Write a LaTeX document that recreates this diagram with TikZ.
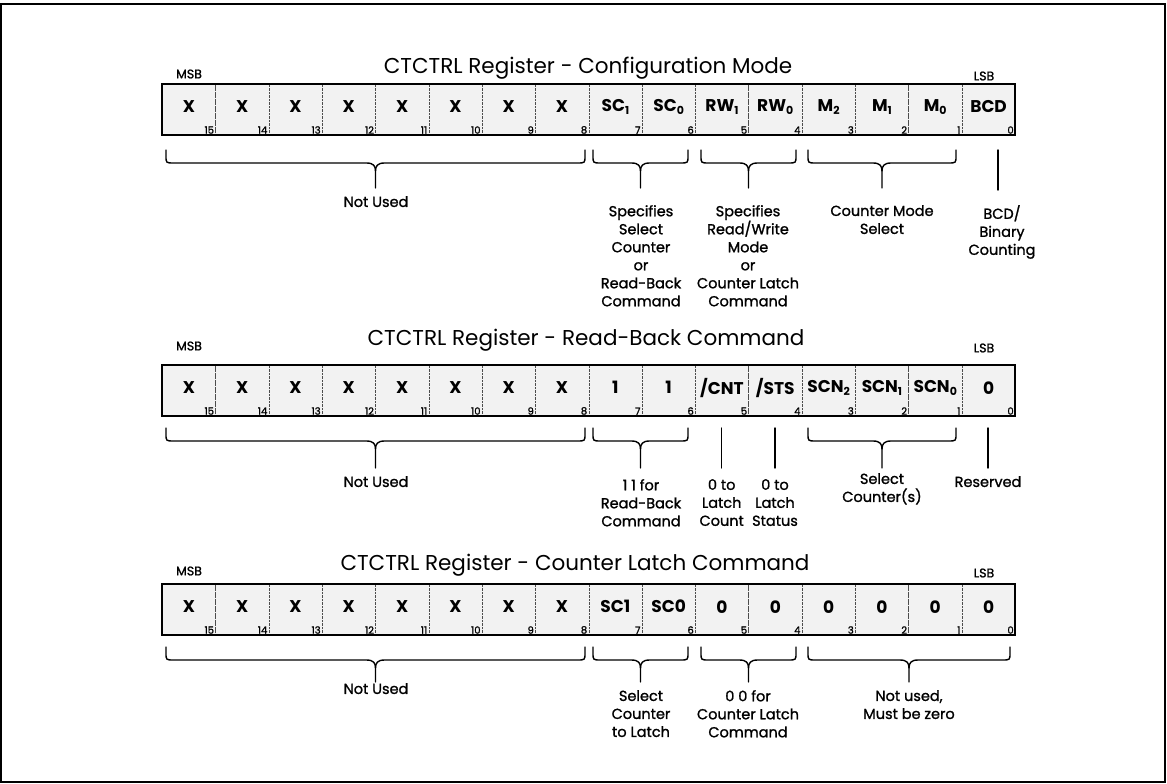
\documentclass[tikz,border=0pt]{standalone}
\usepackage{fontspec}
\setmainfont{Poppins}
\newfontfamily\medfont[FakeBold=1.2]{Poppins}
\newcommand\sbs[1]{\raisebox{-3pt}{\fontsize{11}{11}\selectfont #1}}
\tikzset{
  cellbox/.style={draw=black!70, densely dotted, fill=black!5, minimum width=53.3125pt, minimum height=51pt, inner sep=0pt, anchor=north west},
  celltxt/.style={font=\bfseries\fontsize{17}{17}\selectfont, inner sep=0pt},
  bitno/.style={font=\medfont\fontsize{10}{10}\selectfont, anchor=south east, inner sep=1.5pt},
  titletxt/.style={font=\fontsize{21.5}{22}\selectfont, inner sep=0pt},
  sidetxt/.style={font=\medfont\fontsize{12.5}{12}\selectfont, inner sep=0pt},
  labeltxt/.style={font=\medfont\fontsize{14.5}{18}\selectfont, align=center, anchor=north, inner sep=0pt},
  bracestyle/.style={line width=1.4pt, line cap=round, line join=round},
  outline/.style={line width=2pt},
}
% #1 row name, #2 top y, #3 list of cell texts
\newcommand\regrow[3]{%
  \foreach \t [count=\i from 0] in {#3} {
    \pgfmathsetmacro\xx{162+\i*53.3125}
    \pgfmathtruncatemacro\bb{15-\i}
    \node[cellbox] (#1c\i) at (\xx,#2) {};
    \node[celltxt] (#1t\i) at ([yshift=3pt]#1c\i.center) {\t};
    \node[bitno] (#1b\i) at (#1c\i.south east) {\bb};
  }
  \draw[outline] (#1c0.north west) rectangle (#1c15.south east);
}
% #1 xL, #2 xR, #3 top y, #4 depth, #5 name of tip coordinate
\newcommand\regbrace[5]{%
  \pgfmathsetmacro\xm{(#1+#2)/2}
  \pgfmathsetmacro\yh{#3+13}
  \pgfmathsetmacro\yc{#3+6}
  \pgfmathsetmacro\ys{#3+21}
  \pgfmathsetmacro\yt{#3+#4}
  \draw[bracestyle] (#1,#3) -- (#1,\yc) .. controls (#1,\yh) .. ({#1+8},\yh) -- ({\xm-9},\yh)
     .. controls ({\xm-2},\yh) and (\xm,{\yh+3}) .. (\xm,\ys) -- (\xm,\yt);
  \draw[bracestyle] (#2,#3) -- (#2,\yc) .. controls (#2,\yh) .. ({#2-8},\yh) -- ({\xm+9},\yh)
     .. controls ({\xm+2},\yh) and (\xm,{\yh+3}) .. (\xm,\ys);
  \coordinate (#5) at (\xm,\yt);
}
\begin{document}
\begin{tikzpicture}[x=1pt,y=-1pt]
\useasboundingbox (0,0) rectangle (1167,784);
\draw[line width=1.2pt] (1,4) rectangle (1165,782);

% ---------------- Row 1 ----------------
\node[titletxt] (t1) at (588,68) {CTCTRL Register - Configuration Mode};
\node[sidetxt] (msb1) at (189,74) {MSB};
\node[sidetxt] (lsb1) at (984,76) {LSB};
\regrow{a}{84}{X,X,X,X,X,X,X,X,SC\sbs{1},SC\sbs{0},RW\sbs{1},RW\sbs{0},M\sbs{2},M\sbs{1},M\sbs{0},BCD}
\regbrace{166}{585}{150}{38}{ab1}
\regbrace{593}{688}{150}{38}{ab2}
\regbrace{701}{796}{150}{38}{ab3}
\regbrace{808}{956}{150}{38}{ab4}
\coordinate (ab5top) at (998,150);
\coordinate (ab5) at (998,190);
\draw[bracestyle] (ab5top) -- (ab5);
\node[labeltxt] (al1) at (376,196) {Not Used};
\node[labeltxt] (al2) at (641,205) {Specifies\\Select\\Counter\\or\\Read-Back\\Command};
\node[labeltxt] (al3) at (748,205) {Specifies\\Read/Write\\Mode\\or\\Counter Latch\\Command};
\node[labeltxt] (al4) at (882,205) {Counter Mode\\Select};
\node[labeltxt] (al5) at (1002,205) {BCD/\\Binary\\Counting};

% ---------------- Row 2 ----------------
\node[titletxt] (t2) at (586,340) {CTCTRL Register - Read-Back Command};
\node[sidetxt] (msb2) at (189,346) {MSB};
\node[sidetxt] (lsb2) at (984,348) {LSB};
\regrow{b}{365}{X,X,X,X,X,X,X,X,1,1,/CNT,/STS,SCN\sbs{2},SCN\sbs{1},SCN\sbs{0},0}
\regbrace{166}{585}{428}{40}{bb1}
\regbrace{593}{688}{428}{40}{bb2}
\coordinate (bb3top) at (721.7,428);
\coordinate (bb3) at (721.7,468);
\draw[bracestyle] (bb3top) -- (bb3);
\coordinate (bb4top) at (775,428);
\coordinate (bb4) at (775,468);
\draw[bracestyle] (bb4top) -- (bb4);
\regbrace{808}{956}{428}{40}{bb5}
\coordinate (bb6top) at (988,428);
\coordinate (bb6) at (988,468);
\draw[bracestyle] (bb6top) -- (bb6);
\node[labeltxt] (bl1) at (376,476) {Not Used};
\node[labeltxt] (bl2) at (641,479) {1 1 for\\Read-Back\\Command};
\node[labeltxt] (bl3) at (721.7,479) {0 to\\Latch\\Count};
\node[labeltxt] (bl4) at (775,479) {0 to\\Latch\\Status};
\node[labeltxt] (bl5) at (882,473) {Select\\Counter(s)};
\node[labeltxt] (bl6) at (988,476) {Reserved};

% ---------------- Row 3 ----------------
\node[titletxt] (t3) at (575,565) {CTCTRL Register - Counter Latch Command};
\node[sidetxt] (msb3) at (189,571) {MSB};
\node[sidetxt] (lsb3) at (984,573) {LSB};
\regrow{c}{584}{X,X,X,X,X,X,X,X,SC1,SC0,0,0,0,0,0,0}
\regbrace{166}{585}{647}{35}{cb1}
\regbrace{593}{688}{647}{35}{cb2}
\regbrace{701}{796}{647}{35}{cb3}
\regbrace{808}{1010}{647}{35}{cb4}
\node[labeltxt] (cl1) at (376,683) {Not Used};
\node[labeltxt] (cl2) at (641,690) {Select\\Counter\\to Latch};
\node[labeltxt] (cl3) at (748,690) {0 0 for\\Counter Latch\\Command};
\node[labeltxt] (cl4) at (909,690) {Not used,\\Must be zero};
\end{tikzpicture}
\end{document}
